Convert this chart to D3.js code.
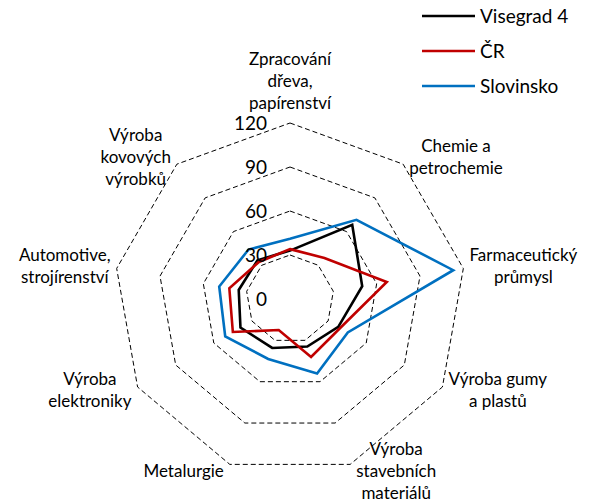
<!DOCTYPE html>
<html>
<head>
<meta charset="utf-8">
<script src="https://cdn.jsdelivr.net/npm/d3@7"></script>
<style>
  body { margin: 0; background: #fff; }
  svg { display: block; font-family: Lato, "Open Sans", sans-serif; }
  .grid { fill: none; stroke: #000; stroke-width: 1; stroke-dasharray: 5,3; }
  .series { fill: none; stroke-width: 2.6; stroke-linejoin: miter; }
</style>
</head>
<body>
<div class="radar"></div>
<script>
// axis categories, one entry per spoke, split into the lines shown
var categories = [
  ['Zpracování', 'dřeva,', 'papírenství'],
  ['Chemie a', 'petrochemie'],
  ['Farmaceutický', 'průmysl'],
  ['Výroba gumy', 'a plastů'],
  ['Výroba', 'stavebních', 'materiálů'],
  ['Metalurgie'],
  ['Výroba', 'elektroniky'],
  ['Automotive,', 'strojírenství'],
  ['Výroba', 'kovových', 'výrobků']
];

var seriesNames = ['Visegrad 4', 'ČR', 'Slovinsko'];
var seriesColors = ['#000000', '#c00000', '#0070c0'];

var visegrad = [33, 66, 50, 38, 34.5, 35.5, 39, 35.5, 34.5];
var cr = [34, 36.5, 67, 39.5, 42, 22.5, 45, 42, 33];
var slovinsko = [41, 70.5, 113, 45.5, 54, 43.5, 51, 49, 44];

var ticks = [0, 30, 60, 90, 120];

function init() {
  var width = 589,
      height = 501,
      cx = 290,
      cy = 299,
      radius = 176,
      lineHeight = 22,
      labelGap = 6;

  var series = [visegrad, cr, slovinsko];
  var n = categories.length;

  var svg = d3.select('.radar')
    .append('svg')
      .attr('width', width)
      .attr('height', height);

  var r = d3.scaleLinear().domain([0, 120]).range([0, radius]);
  var angle = d3.scaleLinear().domain([0, n]).range([0, 2 * Math.PI]);

  function point(i, v) {
    var a = angle(i);
    return [cx + r(v) * Math.sin(a), cy - r(v) * Math.cos(a)];
  }

  // dashed rings
  svg.selectAll('polygon.grid')
    .data(ticks.filter(function(t) { return t > 0; }))
    .enter().append('polygon')
      .attr('class', 'grid')
      .attr('points', function(t) {
        return d3.range(n).map(function(i) { return point(i, t).join(','); }).join(' ');
      });

  // series outlines
  var line = d3.line().curve(d3.curveLinearClosed);
  svg.selectAll('path.series')
    .data(series)
    .enter().append('path')
      .attr('class', 'series')
      .attr('stroke', function(d, i) { return seriesColors[i]; })
      .attr('d', function(d) {
        return line(d.map(function(v, i) { return point(i, v); }));
      });

  // tick labels along the top spoke
  svg.selectAll('text.tick')
    .data(ticks)
    .enter().append('text')
      .attr('class', 'tick')
      .attr('x', cx - 23)
      .attr('y', function(t) { return cy - r(t); })
      .attr('dy', '0.36em')
      .attr('text-anchor', 'end')
      .style('font-size', '19px')
      .text(function(t) { return t; });

  // category labels
  categories.forEach(function(lines, i) {
    var a = angle(i),
        s = Math.sin(a),
        c = Math.cos(a),
        v = point(i, 120);

    var g = svg.append('g').attr('class', 'label');
    var txt = g.append('text')
        .attr('text-anchor', 'middle')
        .style('font-size', '17px');
    lines.forEach(function(l, k) {
      txt.append('tspan')
          .attr('x', 0)
          .attr('y', k * lineHeight)
          .text(l);
    });

    var w = txt.node().getBBox().width,
        h = lines.length * lineHeight,
        x, y;

    if (s > 0.3) x = v[0] + labelGap + w / 2;
    else if (s < -0.3) x = v[0] - labelGap - w / 2;
    else x = v[0];

    if (Math.abs(s) > 0.3) y = v[1] - c * 8;
    else y = v[1] - c * (h / 2 + 8);

    g.attr('transform', 'translate(' + x + ',' + (y - (lines.length - 1) * lineHeight / 2 + 5) + ')');
  });

  // legend
  var legend = svg.selectAll('g.legend')
    .data(seriesNames)
    .enter().append('g')
      .attr('class', 'legend')
      .attr('transform', function(d, i) { return 'translate(422,' + (16 + i * 35) + ')'; });

  legend.append('line')
      .attr('x1', 0)
      .attr('x2', 53)
      .attr('stroke', function(d, i) { return seriesColors[i]; })
      .attr('stroke-width', 2.6);

  legend.append('text')
      .attr('x', 58)
      .attr('dy', '0.36em')
      .style('font-size', '19px')
      .text(function(d) { return d; });
}

d3.select(window).on('load', init);
</script>
</body>
</html>
